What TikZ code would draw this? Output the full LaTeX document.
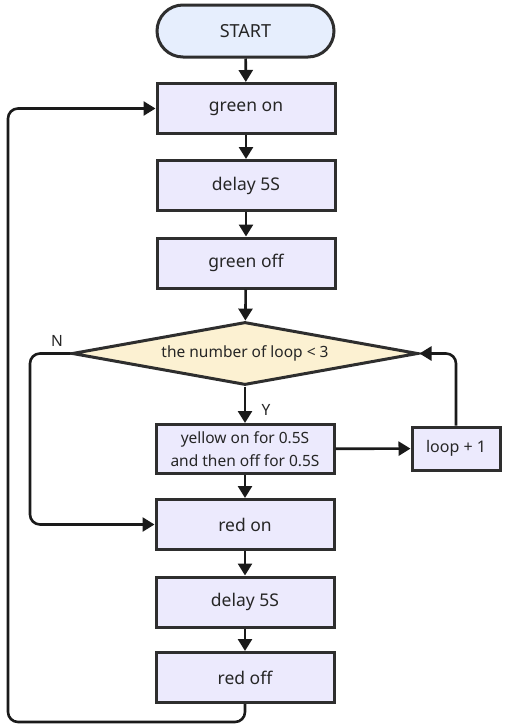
\documentclass[tikz,border=0pt]{standalone}
\usepackage{fontspec}
\setmainfont{Noto Sans}
\usetikzlibrary{shapes.geometric,arrows.meta}
\definecolor{boxfill}{HTML}{ECEAFD}
\definecolor{startfill}{HTML}{E6EEFD}
\definecolor{decfill}{HTML}{FCF1D2}
\definecolor{edge}{HTML}{2E2E2E}
\definecolor{conn}{HTML}{1A1A1A}
\definecolor{txt}{HTML}{262626}
\tikzset{
  procbox/.style={draw=edge, line width=3pt, fill=boxfill, minimum width=178pt, minimum height=50pt, inner sep=2pt, font=\fontsize{17.5}{21}\selectfont, align=center, text=txt},
  startbox/.style={draw=edge, line width=3pt, fill=startfill, rounded corners=26pt, minimum width=177pt, minimum height=52pt, font=\fontsize{18}{21}\selectfont, text=txt},
  decbox/.style={draw=edge, line width=3pt, fill=decfill, diamond, aspect=5.5, minimum width=346pt, minimum height=63pt, inner sep=0pt, font=\fontsize{15.5}{18}\selectfont, text=txt},
  conn/.style={draw=conn, line width=2.6pt, rounded corners=10pt, -{Triangle[length=12pt,width=14pt]}},
  lbl/.style={font=\fontsize{15.5}{18}\selectfont, text=txt, inner sep=0pt}
}
\begin{document}
\begin{tikzpicture}[x=1pt,y=-1pt]
\useasboundingbox (0,0) rectangle (504,728);
\node[startbox] (start) at (245.5,31) {START};
\node[procbox] (g1) at (246,108.5) {green on};
\node[procbox] (d1) at (246,185.5) {delay 5S};
\node[procbox] (g2) at (246,263) {green off};
\node[decbox] (dec) at (245,353.5) {the number of loop < 3};
\node[procbox, minimum height=49pt, font=\fontsize{15.5}{23.5}\selectfont] (y) at (245,449) {yellow on for 0.5S\\and then off for 0.5S};
\node[procbox, minimum width=88pt, minimum height=43pt, font=\fontsize{16}{19}\selectfont] (lp) at (456,448.5) {loop + 1};
\node[procbox] (r1) at (245,524.5) {red on};
\node[procbox] (d2) at (245,602) {delay 5S};
\node[procbox] (r2) at (245,677.5) {red off};
\coordinate (nc1) at (30,353.5);
\coordinate (nc2) at (30,524.5);
\coordinate (bc1) at (245,722);
\coordinate (bc2) at (8,722);
\coordinate (bc3) at (8,108.5);
\coordinate (lc) at (456,353.5);
\draw[conn] (start) -- (g1);
\draw[conn] (g1) -- (d1);
\draw[conn] (d1) -- (g2);
\draw[conn] (g2) -- (dec);
\draw[conn] (dec) -- (y);
\draw[conn] (y) -- (lp);
\draw[conn] (lp.north) -- (lc) -- (dec.east);
\draw[conn] (y) -- (r1);
\draw[conn] (dec.west) -- (nc1) -- (nc2) -- (r1.west);
\draw[conn] (r1) -- (d2);
\draw[conn] (d2) -- (r2);
\draw[conn] (r2.south) -- (bc1) -- (bc2) -- (bc3) -- (g1.west);
\node[lbl] (nl) at (57,341) {N};
\node[lbl] (yl) at (266,410) {Y};
\end{tikzpicture}
\end{document}
